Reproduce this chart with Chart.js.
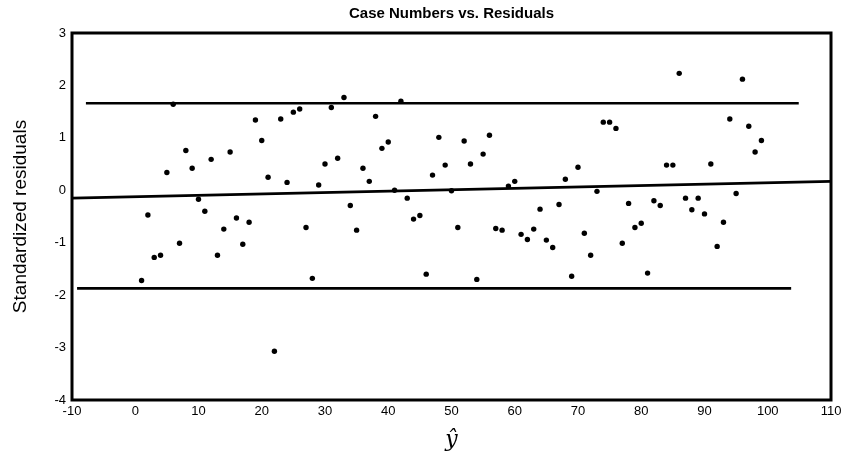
<!DOCTYPE html>
<html>
<head>
<meta charset="utf-8">
<title>Case Numbers vs. Residuals</title>
<script src="https://cdn.jsdelivr.net/npm/chart.js@4.4.1/dist/chart.umd.min.js"></script>
<style>
    html, body { margin: 0; padding: 0; background: #fff; }
    #chart-wrap { width: 850px; height: 461px; }
</style>
</head>
<body>
<div id="chart-wrap"><canvas id="residualsChart" width="850" height="461"></canvas></div>
<script>
// Case numbers and their standardized residuals
const caseNumbers = [
    1, 2, 3, 4, 5, 6, 7, 8, 9, 10, 11, 12, 13, 14, 15, 16, 17, 18, 19, 20,
    21, 22, 23, 24, 25, 26, 27, 28, 29, 30, 31, 32, 33, 34, 35, 36, 37, 38, 39, 40,
    41, 42, 43, 44, 45, 46, 47, 48, 49, 50, 51, 52, 53, 54, 55, 56, 57, 58, 59, 60,
    61, 62, 63, 64, 65, 66, 67, 68, 69, 70, 71, 72, 73, 74, 75, 76, 77, 78, 79, 80,
    81, 82, 83, 84, 85, 86, 87, 88, 89, 90, 91, 92, 93, 94, 95, 96, 97, 98, 99
];
const residuals = [
    -1.72, -0.47, -1.28, -1.24, 0.34, 1.64, -1.01, 0.76, 0.42, -0.17,
    -0.40, 0.59, -1.24, -0.74, 0.73, -0.53, -1.03, -0.61, 1.34, 0.95,
    0.25, -3.07, 1.36, 0.15, 1.49, 1.55, -0.71, -1.68, 0.10, 0.50,
    1.58, 0.61, 1.77, -0.29, -0.76, 0.42, 0.17, 1.41, 0.80, 0.92,
    0.00, 1.70, -0.15, -0.55, -0.48, -1.60, 0.29, 1.01, 0.48, -0.01,
    -0.71, 0.94, 0.50, -1.70, 0.69, 1.05, -0.73, -0.76, 0.08, 0.17,
    -0.84, -0.94, -0.74, -0.36, -0.95, -1.09, -0.27, 0.21, -1.64, 0.44,
    -0.82, -1.24, -0.02, 1.30, 1.30, 1.18, -1.01, -0.25, -0.71, -0.63,
    -1.58, -0.20, -0.29, 0.48, 0.48, 2.23, -0.15, -0.37, -0.15, -0.45,
    0.50, -1.07, -0.61, 1.36, -0.06, 2.12, 1.22, 0.73, 0.95
];

// Reference lines: [x start, x end] and [y start, y end]
const upperLimitX = [-7.8, 104.9];
const upperLimitY = [1.66, 1.66];
const lowerLimitX = [-9.2, 103.7];
const lowerLimitY = [-1.87, -1.87];
const trendX = [-10, 110];
const trendY = [-0.15, 0.17];

// Axis ranges
const xTicks = { min: -10, max: 110, step: 10 };
const yTicks = { min: -4, max: 3, step: 1 };

const toPoints = (xs, ys) => xs.map((x, i) => ({ x: x, y: ys[i] }));

const lineDataset = (label, xs, ys) => ({
    type: 'line',
    label: label,
    data: toPoints(xs, ys),
    borderColor: '#000',
    borderWidth: 2.6,
    pointRadius: 0,
    fill: false,
    tension: 0
});

// Black frame round the plot area
const plotFrame = {
    id: 'plotFrame',
    afterDraw(chart) {
        const { ctx, chartArea: a } = chart;
        ctx.save();
        ctx.strokeStyle = '#000';
        ctx.lineWidth = 3;
        ctx.strokeRect(a.left, a.top, a.right - a.left, a.bottom - a.top);
        ctx.restore();
    }
};

const tickFont = { family: "'Liberation Sans', Arial, sans-serif", size: 13 };

new Chart(document.getElementById('residualsChart'), {
    type: 'scatter',
    data: {
        datasets: [
            {
                label: 'Residuals',
                data: toPoints(caseNumbers, residuals),
                backgroundColor: '#000',
                borderWidth: 0,
                pointRadius: 2.7,
                pointHoverRadius: 2.7
            },
            lineDataset('Upper limit', upperLimitX, upperLimitY),
            lineDataset('Lower limit', lowerLimitX, lowerLimitY),
            lineDataset('Trend', trendX, trendY)
        ]
    },
    options: {
        responsive: false,
        animation: false,
        layout: { padding: { left: 0, right: 19, top: 0, bottom: 0 } },
        plugins: {
            legend: { display: false },
            tooltip: { enabled: false },
            title: {
                display: true,
                text: 'Case Numbers vs. Residuals',
                color: '#000',
                fullSize: false,
                font: { family: "'Liberation Sans', Arial, sans-serif", size: 15, weight: 'bold' },
                padding: { top: 5, bottom: 10 }
            }
        },
        scales: {
            x: {
                type: 'linear',
                min: xTicks.min,
                max: xTicks.max,
                grid: { display: false, drawTicks: false },
                border: { display: false },
                ticks: {
                    stepSize: xTicks.step,
                    color: '#000',
                    font: tickFont,
                    padding: 4,
                    maxRotation: 0
                },
                title: {
                    display: true,
                    text: 'ŷ',
                    color: '#000',
                    font: { family: "'DejaVu Serif', serif", size: 22, style: 'italic' },
                    padding: { top: 0, bottom: 8 }
                },
                afterFit(scale) { scale.height = 61; }
            },
            y: {
                min: yTicks.min,
                max: yTicks.max,
                grid: { display: false, drawTicks: false },
                border: { display: false },
                ticks: {
                    stepSize: yTicks.step,
                    color: '#000',
                    font: tickFont,
                    padding: 6
                },
                title: {
                    display: true,
                    text: 'Standardized residuals',
                    color: '#000',
                    font: { family: "'Liberation Sans Narrow', 'Liberation Sans', sans-serif", size: 19 },
                    padding: { top: 9, bottom: 0 }
                },
                afterFit(scale) { scale.width = 72; }
            }
        }
    },
    plugins: [plotFrame]
});
</script>
</body>
</html>
